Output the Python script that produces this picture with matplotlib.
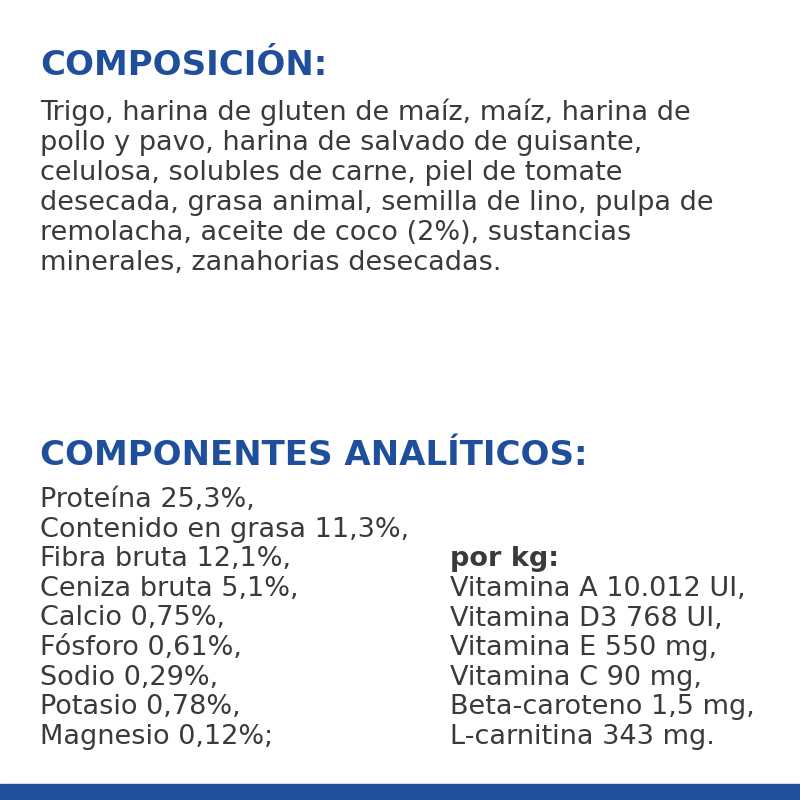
import matplotlib
matplotlib.use("Agg")
import matplotlib.pyplot as plt
from matplotlib.patches import Rectangle

BLUE = "#1f4e9a"
GREY = "#3a3a3a"

title1 = "COMPOSICIÓN:"
composition = [
    "Trigo, harina de gluten de maíz, maíz, harina de",
    "pollo y pavo, harina de salvado de guisante,",
    "celulosa, solubles de carne, piel de tomate",
    "desecada, grasa animal, semilla de lino, pulpa de",
    "remolacha, aceite de coco (2%), sustancias",
    "minerales, zanahorias desecadas.",
]
title2 = "COMPONENTES ANALÍTICOS:"
analytic = [
    "Proteína 25,3%,", "Contenido en grasa 11,3%,", "Fibra bruta 12,1%,",
    "Ceniza bruta 5,1%,", "Calcio 0,75%,", "Fósforo 0,61%,",
    "Sodio 0,29%,", "Potasio 0,78%,", "Magnesio 0,12%;",
]
per_kg_title = "por kg:"
per_kg = [
    "Vitamina A 10.012 UI,", "Vitamina D3 768 UI,", "Vitamina E 550 mg,",
    "Vitamina C 90 mg,", "Beta-caroteno 1,5 mg,", "L-carnitina 343 mg.",
]

fig = plt.figure(figsize=(8, 8), dpi=100)
fig.patch.set_facecolor("white")


def put(px, py, s, **kw):
    fig.text(px / 800, 1 - py / 800, s, va="baseline", ha="left", **kw)


body = dict(color=GREY, fontsize=19.5, family="DejaVu Sans")
head = dict(color=BLUE, fontsize=24.5, fontweight="bold", family="DejaVu Sans")

put(40, 75, title1, **head)
for i, line in enumerate(composition):
    put(40, 120 + i * 30, line, **body)

put(40, 465, title2, **head)
for i, line in enumerate(analytic):
    put(40, 507 + i * 29.6, line, **body)
put(450, 566, per_kg_title, color=GREY, fontsize=19.5, fontweight="bold")
for i, line in enumerate(per_kg):
    put(450, 596 + i * 29.6, line, **body)

fig.patches.append(Rectangle((0, 0), 1, 16 / 800, transform=fig.transFigure,
                             color=BLUE, zorder=5))
fig.savefig("out.png", dpi=100)
